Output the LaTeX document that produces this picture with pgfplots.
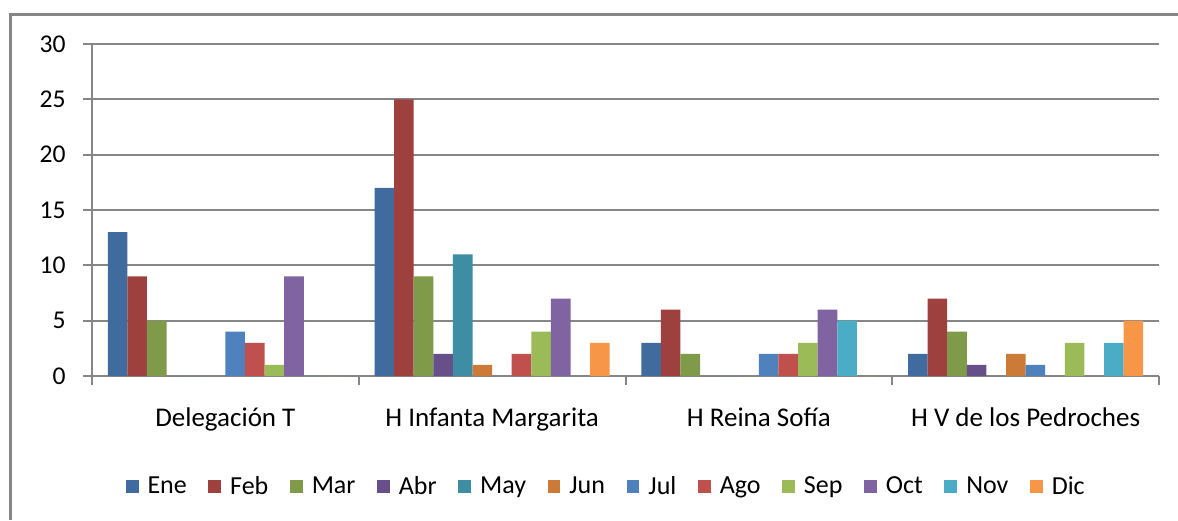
\documentclass[border=0pt]{standalone}
\usepackage{fontspec}
\setmainfont{Carlito}
\usepackage{pgfplots}
\pgfplotsset{compat=1.18}

\definecolor{cEne}{HTML}{3F6B9F}
\definecolor{cFeb}{HTML}{9E413E}
\definecolor{cMar}{HTML}{7F9A48}
\definecolor{cAbr}{HTML}{67508A}
\definecolor{cMay}{HTML}{3D8DA3}
\definecolor{cJun}{HTML}{CC7A38}
\definecolor{cJul}{HTML}{4F81BD}
\definecolor{cAgo}{HTML}{C0504D}
\definecolor{cSep}{HTML}{9BBB59}
\definecolor{cOct}{HTML}{8064A2}
\definecolor{cNov}{HTML}{4BACC6}
\definecolor{cDic}{HTML}{F79646}
\definecolor{gridgray}{HTML}{868686}

\begin{document}
\begin{tikzpicture}
\path[use as bounding box] (0,0) rectangle (589pt,-260pt);
\draw[line width=1.5pt, color=gridgray] (5pt,-260pt) -- (5pt,-7pt) -- (589pt,-7pt);
\begin{axis}[
  at={(46pt,-188pt)}, anchor=south west,
  scale only axis, width=533.5pt, height=166pt,
  ybar=0pt, bar width=9.8pt,
  xmin=0.5, xmax=4.5, ymin=0, ymax=30,
  ytick={0,5,...,30},
  xtick={0.5,1.5,...,4.5},
  x tick label as interval,
  xticklabels={Delegación T, H Infanta Margarita, H Reina Sofía, H V de los Pedroches},
  axis lines*=left,
  tick align=outside,
  major tick length=4.5pt,
  ymajorgrids,
  grid style={color=gridgray, line width=1pt},
  axis line style={color=gridgray, line width=1pt},
  tick style={color=gridgray, line width=1pt},
  font=\fontsize{12.8}{15}\selectfont,
  /pgf/number format/assume math mode=true,
  yticklabel style={anchor=east, inner sep=0pt, xshift=-8.5pt},
  xticklabel style={anchor=base, inner sep=0pt, yshift=-20.5pt,
    font=\fontsize{13.5}{15}\selectfont},
  legend columns=12,
  legend style={draw=none, at={(0.481,-0.334)}, anchor=center,
    font=\fontsize{13}{15}\selectfont,
    nodes={inner sep=0pt}, column sep=4.5pt,
    /tikz/every even column/.append style={column sep=10.8pt}},
  legend image code/.code={\path[#1] (0pt,-3.2pt) rectangle (6.4pt,3.2pt);},
]
\addplot[fill=cEne, draw=none] coordinates {(1,13) (2,17) (3,3) (4,2)};
\addplot[fill=cFeb, draw=none] coordinates {(1,9) (2,25) (3,6) (4,7)};
\addplot[fill=cMar, draw=none] coordinates {(1,5) (2,9) (3,2) (4,4)};
\addplot[fill=cAbr, draw=none] coordinates {(1,0) (2,2) (3,0) (4,1)};
\addplot[fill=cMay, draw=none] coordinates {(1,0) (2,11) (3,0) (4,0)};
\addplot[fill=cJun, draw=none] coordinates {(1,0) (2,1) (3,0) (4,2)};
\addplot[fill=cJul, draw=none] coordinates {(1,4) (2,0) (3,2) (4,1)};
\addplot[fill=cAgo, draw=none] coordinates {(1,3) (2,2) (3,2) (4,0)};
\addplot[fill=cSep, draw=none] coordinates {(1,1) (2,4) (3,3) (4,3)};
\addplot[fill=cOct, draw=none] coordinates {(1,9) (2,7) (3,6) (4,0)};
\addplot[fill=cNov, draw=none] coordinates {(1,0) (2,0) (3,5) (4,3)};
\addplot[fill=cDic, draw=none] coordinates {(1,0) (2,3) (3,0) (4,5)};
\legend{Ene,Feb,Mar,Abr,May,Jun,Jul,Ago,Sep,Oct,Nov,Dic}
\end{axis}
\end{tikzpicture}
\end{document}
